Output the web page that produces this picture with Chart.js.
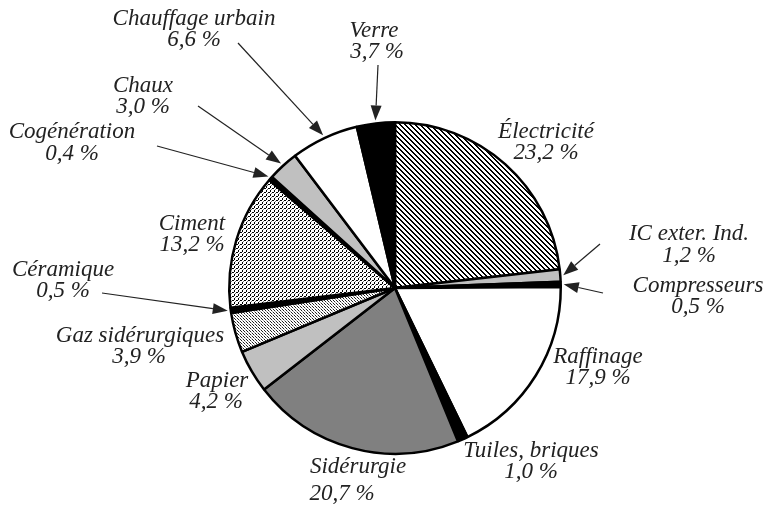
<!DOCTYPE html>
<html>
<head>
<meta charset="utf-8">
<script src="https://cdn.jsdelivr.net/npm/chart.js@4"></script>
<style>
  html, body { margin: 0; padding: 0; background: #fff; }
</style>
</head>
<body>
<canvas id="pie" width="769" height="507"></canvas>
<script>
// data, clockwise from 12 o'clock
const sectors = ['Électricité', 'IC exter. Ind.', 'Compresseurs', 'Raffinage', 'Tuiles, briques',
  'Sidérurgie', 'Papier', 'Gaz sidérurgiques', 'Céramique', 'Ciment', 'Cogénération',
  'Chaux', 'Chauffage urbain', 'Verre'];
const shares = [23.2, 1.2, 0.5, 17.9, 1.0, 20.7, 4.2, 3.9, 0.5, 13.2, 0.4, 3.0, 6.6, 3.7];
const fills = ['hatch', 'light', 'black', 'white', 'black', 'dark', 'light', 'fine', 'black',
  'dots', 'black', 'light', 'white', 'black'];

// label placement: [x line1, baseline1, x line2, baseline2, arrow tail x, arrow tail y]
const labelPos = [
  [546, 138, 546, 159],
  [689, 240, 689, 262, 600, 244],
  [698, 292, 698, 313, 603, 293],
  [598, 363, 598, 384],
  [531, 457, 531, 478],
  [358, 473, 342, 500],
  [217, 387, 216, 408],
  [140, 342, 139, 363],
  [63, 276, 63, 297, 102, 293],
  [192, 230, 192, 251],
  [72, 138, 72, 160, 157, 146],
  [143, 92, 143, 113, 198, 106],
  [194, 25, 194, 46, 238, 43],
  [374, 37, 377, 58, 378, 65]
];

const FONT = 'italic 23px "Liberation Serif"';

function tile(size, draw) {
  const c = document.createElement('canvas');
  c.width = size; c.height = size;
  const g = c.getContext('2d');
  g.fillStyle = '#fff';
  g.fillRect(0, 0, size, size);
  draw(g);
  return document.getElementById('pie').getContext('2d').createPattern(c, 'repeat');
}

const styles = {
  white: '#ffffff',
  black: '#000000',
  light: '#c0c0c0',
  dark: '#808080',
  hatch: tile(5, g => {
    g.fillStyle = '#000';
    // diagonal stripe, top-left to bottom-right
    for (let k = 0; k < 5; k++) {
      g.fillRect(k, k, 1, 1);
      g.fillRect((k + 1) % 5, k, 1, 1);
    }
  }),
  dots: tile(4, g => {
    g.fillStyle = '#000';
    g.fillRect(0, 0, 2, 1);
    g.fillRect(2, 2, 1, 2);
    g.fillStyle = '#777';
    g.fillRect(3, 1, 1, 1);
  }),
  fine: tile(3, g => {
    g.fillStyle = '#222';
    g.fillRect(0, 0, 1, 1);
    g.fillRect(1, 1, 1, 1);
    g.fillStyle = '#999';
    g.fillRect(2, 2, 1, 1);
  })
};

const pctText = v => v.toFixed(1).replace('.', ',') + ' %';

const labelPlugin = {
  id: 'pieLabels',
  afterDraw(chart) {
    const ctx = chart.ctx;
    const arcs = chart.getDatasetMeta(0).data;
    ctx.save();
    ctx.font = FONT;
    ctx.textAlign = 'center';
    ctx.textBaseline = 'alphabetic';
    ctx.fillStyle = '#222';
    ctx.strokeStyle = '#222';
    sectors.forEach((name, i) => {
      const p = labelPos[i];
      ctx.fillText(name, p[0], p[1]);
      ctx.fillText(pctText(shares[i]), p[2], p[3]);
      if (p.length > 4) {
        // arrow points at the middle of the slice, just outside the rim
        const arc = arcs[i];
        const mid = (arc.startAngle + arc.endAngle) / 2;
        const r = arc.outerRadius + 3;
        const tx = arc.x + Math.cos(mid) * r;
        const ty = arc.y + Math.sin(mid) * r;
        const ang = Math.atan2(ty - p[5], tx - p[4]);
        const hl = 15, hw = 5.5;
        const bx = tx - Math.cos(ang) * hl;
        const by = ty - Math.sin(ang) * hl;
        ctx.lineWidth = 1.2;
        ctx.beginPath();
        ctx.moveTo(p[4], p[5]);
        ctx.lineTo(bx, by);
        ctx.stroke();
        ctx.beginPath();
        ctx.moveTo(tx, ty);
        ctx.lineTo(bx + Math.sin(ang) * hw, by - Math.cos(ang) * hw);
        ctx.lineTo(bx - Math.sin(ang) * hw, by + Math.cos(ang) * hw);
        ctx.closePath();
        ctx.fill();
      }
    });
    ctx.restore();
  }
};

function draw() {
  new Chart(document.getElementById('pie'), {
    type: 'pie',
    data: {
      labels: sectors,
      datasets: [{
        data: shares,
        backgroundColor: fills.map(f => styles[f]),
        borderColor: '#000',
        borderWidth: 2.5,
        hoverBorderWidth: 2.5,
        hoverOffset: 0
      }]
    },
    options: {
      responsive: false,
      animation: false,
      layout: { padding: { top: 121, bottom: 52, left: 200, right: 179 } },
      plugins: {
        legend: { display: false },
        tooltip: { enabled: false }
      }
    },
    plugins: [labelPlugin]
  });
}

document.fonts.load(FONT, 'Électricité').then(draw, draw);
</script>
</body>
</html>
